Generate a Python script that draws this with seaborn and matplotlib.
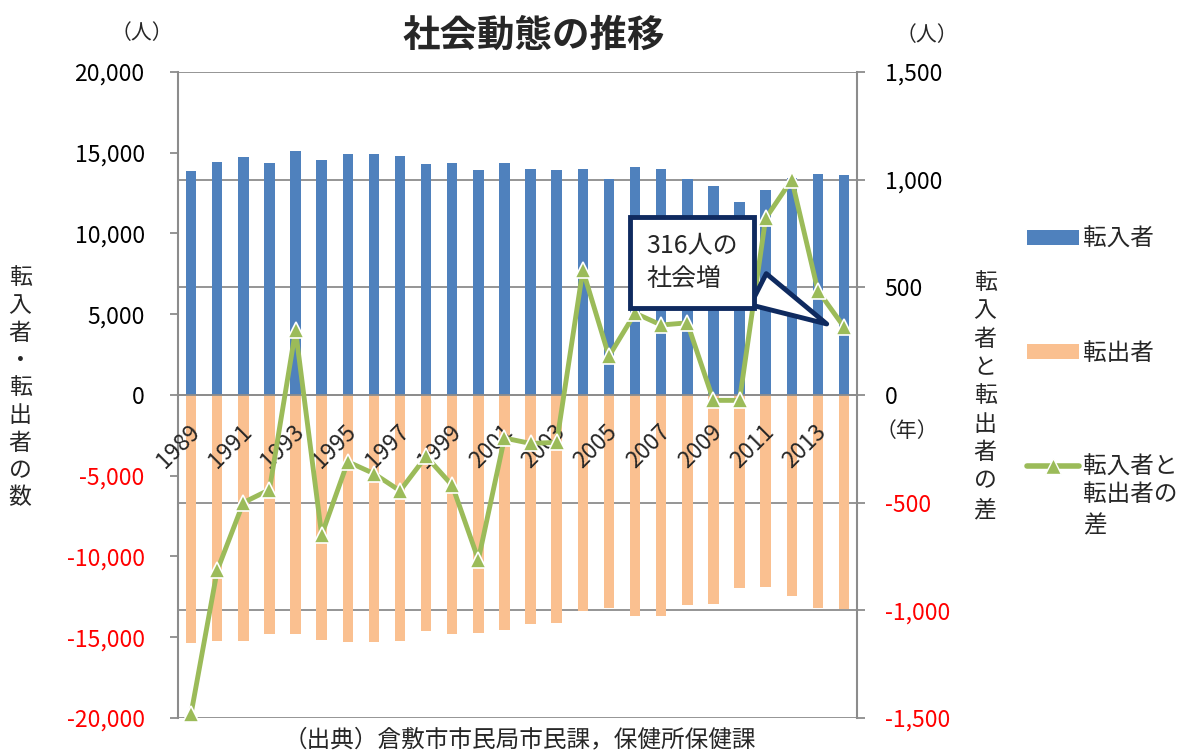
import numpy as np
import matplotlib
matplotlib.use('Agg')
import matplotlib.pyplot as plt
import seaborn as sns
from matplotlib.patches import Patch
from matplotlib.lines import Line2D
from matplotlib.ticker import FuncFormatter
from matplotlib.transforms import ScaledTranslation

# ── データ ──
years = [str(y) for y in range(1989, 2015)]
tennyu = [13900, 14400, 14750, 14380, 15100, 14550, 14950, 14950, 14800, 14300,
          14350, 13950, 14370, 13980, 13930, 13970, 13370, 14100, 14000, 13350,
          12920, 11930, 12690, 13450, 13700, 13600]
tenshutsu = [-15380, -15210, -15250, -14820, -14800, -15170, -15270, -15310, -15250, -14590,
             -14780, -14740, -14530, -14200, -14140, -13370, -13190, -13700, -13660, -12980,
             -12940, -11950, -11870, -12470, -13210, -13270]
sa = [-1480, -815, -500, -440, 300, -650, -310, -365, -445, -285,
      -420, -765, -200, -225, -220, 580, 180, 380, 325, 335,
      -25, -25, 820, 1000, 485, 316]

left_ticks = list(range(-20000, 20001, 5000))
right_ticks = list(range(-1500, 1501, 500))
year_ticks = years[::2]

BLUE = "#4F81BD"
ORANGE = "#FAC090"
GREEN = "#9BBB59"
RED = "#FF0000"
GRAY = "#8C8C8C"
NAVY = "#0F2A5F"

sns.set_style("white")
plt.rcParams['font.family'] = ['Noto Sans CJK JP', 'DejaVu Sans']
plt.rcParams['axes.axisbelow'] = False

fig = plt.figure(figsize=(11.9, 7.53), dpi=100)
ax1 = fig.add_axes([0.1496, 0.0465, 0.5706, 0.8579])

# 目盛線（右軸の区切り）を棒の背面に
for v in np.linspace(-20000, 20000, 7):
    ax1.axhline(v, color=GRAY, linewidth=1.3, zorder=0.5)

sns.barplot(x=years, y=tennyu, color=BLUE, width=0.4, saturation=1,
            linewidth=0, ax=ax1)
sns.barplot(x=years, y=tenshutsu, color=ORANGE, width=0.4, saturation=1,
            linewidth=0, ax=ax1)

ax2 = ax1.twinx()
sns.pointplot(x=years, y=sa, color=GREEN, markers='^', linestyles='-',
              errorbar=None, ax=ax2, markersize=12, linewidth=3.5,
              markeredgecolor='white', markeredgewidth=1.2, clip_on=False)

# ── 軸設定 ──
ax1.set_xlim(-0.5, len(years) - 0.5)
ax1.set_ylim(-20000, 20000)
ax2.set_ylim(-1500, 1500)
for ax in (ax1, ax2):
    ax.set_xlabel("")
    ax.set_ylabel("")
    ax.grid(False)
    ax.set_axisbelow(False)

fmt = FuncFormatter(lambda v, p: f"{v:,.0f}")
ax1.set_yticks(left_ticks)
ax1.yaxis.set_major_formatter(fmt)
ax2.set_yticks(right_ticks)
ax2.yaxis.set_major_formatter(fmt)

ax1.tick_params(axis='y', which='major', direction='out', length=6, width=1.3,
                color=GRAY, pad=18, labelsize=16.5)
ax2.tick_params(axis='y', which='major', direction='out', length=6, width=1.3,
                color=GRAY, pad=14, labelsize=16.5)

ax1.set_xticks(range(0, len(years), 2), labels=year_ticks)
ax1.set_xticks(np.arange(-0.5, len(years), 1), minor=True)
ax1.tick_params(axis='x', which='major', length=0, pad=24, labelsize=16.5,
                labelrotation=45)
ax1.tick_params(axis='x', which='minor', direction='out', length=7, width=1.3, color=GRAY)

for ax in (ax1, ax2):
    ax.spines['top'].set_visible(False)
ax1.spines['right'].set_visible(False)
ax1.spines['bottom'].set_position(('data', 0))
ax1.spines['bottom'].set_color(GRAY)
ax1.spines['bottom'].set_linewidth(1.3)
ax1.spines['left'].set_color(GRAY)
ax1.spines['left'].set_linewidth(1.5)
ax2.spines['left'].set_visible(False)
ax2.spines['bottom'].set_visible(False)
ax2.spines['right'].set_color(GRAY)
ax2.spines['right'].set_linewidth(1.5)

# ── 吹き出し ──
ax2.annotate("316人の\n社会増", xy=(0.959, 0.608), xycoords='axes fraction',
             xytext=(0.757, 0.705), textcoords='axes fraction',
             ha='center', va='center', multialignment='left',
             fontsize=18, linespacing=1.3,
             bbox=dict(boxstyle='square,pad=0.65', fc='white', ec=NAVY, lw=3.5),
             arrowprops=dict(arrowstyle='wedge,tail_width=1.4,shrink_factor=0.5',
                             fc='white', ec=NAVY, lw=3.5, relpos=(0.9, 0.3)))

# ── 凡例 ──
handles = [Patch(fc=BLUE, ec='none'), Patch(fc=ORANGE, ec='none'),
           Line2D([], [], color=GREEN, lw=4, marker='^', markersize=11,
                  markeredgecolor='white', markeredgewidth=1)]
leg = fig.legend(handles, ["転入者", "転出者", "転入者と"], loc='upper left',
                 bbox_to_anchor=(1015 / 1190, 1 - 216 / 753), frameon=False,
                 fontsize=17, handlelength=2.2, handleheight=0.6,
                 handletextpad=0.2, labelspacing=3.85, borderpad=0)

# ── テキスト ──
fig.text(534 / 1190, 1 - 35 / 753, "社会動態の推移", fontsize=27,
         fontweight='bold', ha='center', va='center')
fig.text(142 / 1190, 1 - 33 / 753, "（人）", fontsize=15, ha='center', va='center')
fig.text(927 / 1190, 1 - 35 / 753, "（人）", fontsize=15, ha='center', va='center')
fig.text(907 / 1190, 1 - 431 / 753, "（年）", fontsize=15, ha='center', va='center')
fig.text(20 / 1190, 1 - 388 / 753, "\n".join("転入者・転出者の数"), fontsize=16.5,
         ha='center', va='center', linespacing=1.25)
fig.text(985 / 1190, 1 - 396 / 753, "\n".join("転入者と転出者の差"), fontsize=16.5,
         ha='center', va='center', linespacing=1.3)
fig.text(520 / 1190, 1 - 740 / 753, "（出典）倉敷市市民局市民課，保健所保健課",
         fontsize=17, ha='center', va='center')

fig.canvas.draw()

# 凡例3行目の続き（凡例の文字位置に揃える）
bb = leg.get_texts()[2].get_window_extent()
fig.text(bb.x0 / fig.bbox.width, (bb.y0 - 4) / fig.bbox.height, "転出者の\n差",
         fontsize=17, ha='left', va='top', linespacing=1.5)

# 年ラベルは45度回転・右端揃え、負の値は赤
off = ScaledTranslation(5 / 100, 0, fig.dpi_scale_trans)
for lab in ax1.get_xticklabels():
    lab.set_ha('right')
    lab.set_va('center')
    lab.set_rotation_mode('anchor')
    lab.set_transform(lab.get_transform() + off)
for v, lab in zip(ax1.get_yticks(), ax1.get_yticklabels()):
    lab.set_color(RED if v < 0 else 'black')
for v, lab in zip(ax2.get_yticks(), ax2.get_yticklabels()):
    lab.set_color(RED if v < 0 else 'black')

fig.savefig("out.png", dpi=100)
plt.close(fig)
